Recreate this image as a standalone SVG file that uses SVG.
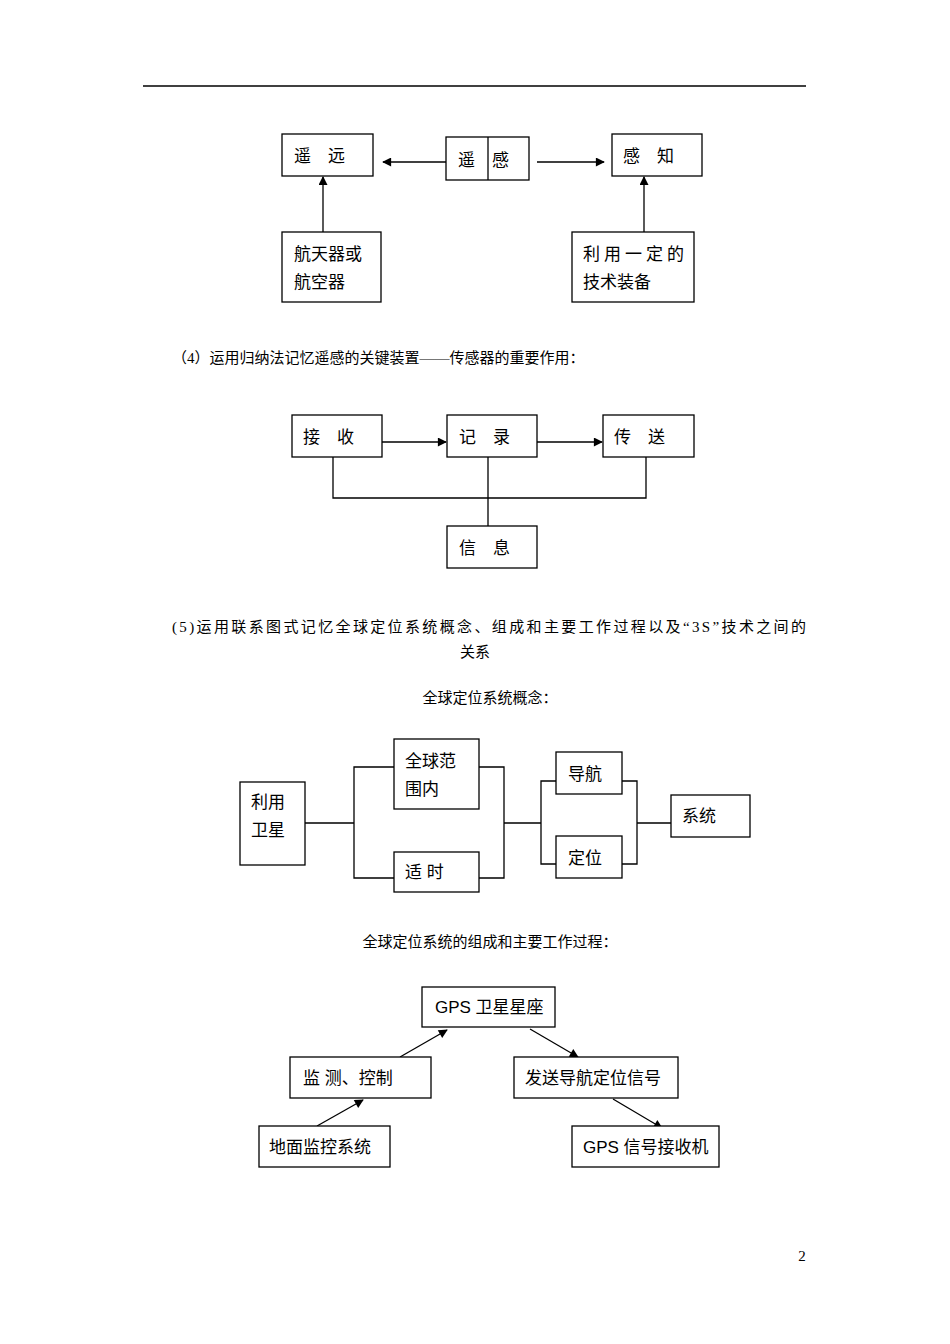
<svg xmlns="http://www.w3.org/2000/svg" width="950" height="1344" viewBox="0 0 950 1344">
<style>
.b{fill:#fff;stroke:#000;stroke-width:1.3}
.t{font-family:"Liberation Sans","Noto Sans CJK SC",sans-serif;font-size:17px;fill:#000}
.s{font-family:"Liberation Serif","Noto Sans CJK SC",serif;font-size:15px;fill:#000}
.c line,.c path{stroke:#000;stroke-width:1.3;fill:none}
</style>
<defs><marker id="a" viewBox="0 0 10 10" refX="9" refY="5" markerWidth="10" markerHeight="9" orient="auto" markerUnits="userSpaceOnUse"><path d="M0,0L10,5L0,10z" fill="#000"/></marker></defs>
<rect width="950" height="1344" fill="#fff"/>
<line x1="143" y1="86" x2="806" y2="86" stroke="#000" stroke-width="1.3"/>
<g class="c">
<line x1="446" y1="162" x2="383" y2="162" marker-end="url(#a)"/>
<line x1="537" y1="162" x2="604" y2="162" marker-end="url(#a)"/>
<line x1="323" y1="232" x2="323" y2="177" marker-end="url(#a)"/>
<line x1="644" y1="232" x2="644" y2="177" marker-end="url(#a)"/>
<line x1="382" y1="442" x2="446" y2="442" marker-end="url(#a)"/>
<line x1="537" y1="442" x2="602" y2="442" marker-end="url(#a)"/>
<path d="M333,457V498H646V457M488,457V526"/>
<path d="M305,823H354M394,767H354V878H394M479,767H504V878H479M504,823H541M556,781H541V864H556M622,781H637V864H622M637,823H671"/>
<line x1="400" y1="1057" x2="447" y2="1030" marker-end="url(#a)"/>
<line x1="317" y1="1126" x2="363" y2="1100" marker-end="url(#a)"/>
<line x1="530" y1="1029" x2="578" y2="1057" marker-end="url(#a)"/>
<line x1="613" y1="1099" x2="662" y2="1128" marker-end="url(#a)"/>
</g>
<g id="n1"><rect class="b" x="282" y="134" width="91" height="42"/><text class="t" x="294" y="162">遥　远</text></g>
<g id="n2"><rect class="b" x="446" y="137" width="83" height="43"/><line x1="488" y1="137" x2="488" y2="180" stroke="#000" stroke-width="1.3"/><text class="t" x="458" y="166">遥　感</text></g>
<g id="n3"><rect class="b" x="612" y="134" width="90" height="42"/><text class="t" x="623" y="162">感　知</text></g>
<g id="n4"><rect class="b" x="282" y="232" width="99" height="70"/><text class="t" x="294" y="260">航天器或</text><text class="t" x="294" y="288">航空器</text></g>
<g id="n5"><rect class="b" x="572" y="232" width="122" height="70"/><text class="t" x="583" y="260" letter-spacing="4">利用一定的</text><text class="t" x="583" y="288">技术装备</text></g>
<text class="s" x="172" y="363">（4）运用归纳法记忆遥感的关键装置——传感器的重要作用：</text>
<g id="n6"><rect class="b" x="292" y="415" width="90" height="42"/><text class="t" x="303" y="443" font-size="19">接　收</text></g>
<g id="n7"><rect class="b" x="447" y="415" width="90" height="42"/><text class="t" x="459" y="443" font-size="19">记　录</text></g>
<g id="n8"><rect class="b" x="603" y="415" width="91" height="42"/><text class="t" x="614" y="443" font-size="19">传　送</text></g>
<g id="n9"><rect class="b" x="447" y="526" width="90" height="42"/><text class="t" x="459" y="554" font-size="19">信　息</text></g>
<text class="s" x="172" y="632" textLength="634">(5)运用联系图式记忆全球定位系统概念、组成和主要工作过程以及“3S”技术之间的</text>
<text class="s" x="475" y="657" text-anchor="middle">关系</text>
<text class="s" x="490" y="703" text-anchor="middle">全球定位系统概念：</text>
<g id="n10"><rect class="b" x="240" y="782" width="65" height="83"/><text class="t" x="251" y="808">利用</text><text class="t" x="251" y="836">卫星</text></g>
<g id="n11"><rect class="b" x="394" y="739" width="85" height="70"/><text class="t" x="405" y="767">全球范</text><text class="t" x="405" y="795">围内</text></g>
<g id="n12"><rect class="b" x="394" y="852" width="85" height="40"/><text class="t" x="405" y="878">适 时</text></g>
<g id="n13"><rect class="b" x="556" y="752" width="66" height="42"/><text class="t" x="568" y="780">导航</text></g>
<g id="n14"><rect class="b" x="556" y="836" width="66" height="42"/><text class="t" x="568" y="864">定位</text></g>
<g id="n15"><rect class="b" x="671" y="795" width="79" height="42"/><text class="t" x="682" y="822">系统</text></g>
<text class="s" x="490" y="947" text-anchor="middle">全球定位系统的组成和主要工作过程：</text>
<g id="n16"><rect class="b" x="422" y="987" width="133" height="40"/><text class="t" x="435" y="1013">GPS 卫星星座</text></g>
<g id="n17"><rect class="b" x="290" y="1057" width="141" height="41"/><text class="t" x="303" y="1084">监 测、控制</text></g>
<g id="n18"><rect class="b" x="514" y="1057" width="164" height="41"/><text class="t" x="525" y="1084">发送导航定位信号</text></g>
<g id="n19"><rect class="b" x="259" y="1126" width="131" height="41"/><text class="t" x="269" y="1153">地面监控系统</text></g>
<g id="n20"><rect class="b" x="572" y="1126" width="147" height="41"/><text class="t" x="583" y="1153">GPS 信号接收机</text></g>
<text class="s" x="802" y="1261" text-anchor="middle">2</text>
</svg>
